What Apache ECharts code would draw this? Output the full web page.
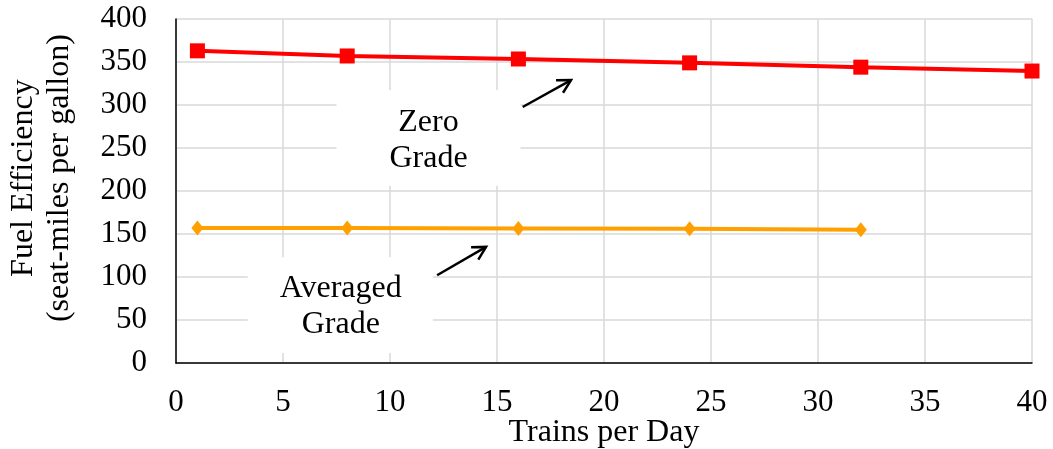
<!DOCTYPE html>
<html><head><meta charset="utf-8">
<script src="https://cdn.jsdelivr.net/npm/echarts@6/dist/echarts.min.js"></script>
<style>html,body{margin:0;padding:0;background:#fff}#c{width:1053px;height:449px}</style>
</head><body><div id="c"></div>
<script>
const trains = [1, 8, 16, 24, 32, 40];
const zeroGrade = [363, 357, 353.5, 349, 344, 339.5];
const avgTrains = [1, 8, 16, 24, 32];
const averagedGrade = [157, 157, 156.5, 156, 155];
const xTicks = [0, 40, 5];
const yTicks = [0, 400, 50];
const yTitle = 'Fuel Efficiency\n(seat-miles per gallon)';
const xTitle = 'Trains per Day';

const FONT = '"Liberation Serif", "DejaVu Serif", serif';
const chart = echarts.init(document.getElementById('c'));
chart.setOption({
  animation: false,
  grid: {left: 176, right: 21, top: 19, bottom: 86, containLabel: false, outerBoundsMode: 'none'},
  xAxis: {
    type: 'value', min: xTicks[0], max: xTicks[1], interval: xTicks[2],
    name: xTitle, nameLocation: 'middle', nameGap: 54, nameMoveOverlap: false,
    nameTextStyle: {fontFamily: FONT, fontSize: 32, color: '#000'},
    axisLine: {show: true, lineStyle: {color: '#000', width: 1.5}},
    axisTick: {show: false},
    axisLabel: {fontFamily: FONT, fontSize: 31, color: '#000', margin: 24},
    splitLine: {show: true, lineStyle: {color: '#d9d9d9', width: 1.5}}
  },
  yAxis: {
    type: 'value', min: yTicks[0], max: yTicks[1], interval: yTicks[2],
    axisLine: {show: true, lineStyle: {color: '#000', width: 1.5}},
    axisTick: {show: false},
    axisLabel: {fontFamily: FONT, fontSize: 31, color: '#000', margin: 29},
    splitLine: {show: true, lineStyle: {color: '#d9d9d9', width: 1.5}}
  },
  series: [
    {type: 'line', data: trains.map((x, i) => [x, zeroGrade[i]]),
     symbol: 'rect', symbolSize: 15, z: 5,
     lineStyle: {color: '#ff0000', width: 4}, itemStyle: {color: '#ff0000'}},
    {type: 'line', data: avgTrains.map((x, i) => [x, averagedGrade[i]]),
     symbol: 'diamond', symbolSize: [12, 15], z: 4,
     lineStyle: {color: '#ffa000', width: 4}, itemStyle: {color: '#ffa000'}}
  ]
});

function P(x, y) { return chart.convertToPixel({gridIndex: 0}, [x, y]); }
function box(x0, y0, x1, y1) {
  const a = P(x0, y0), b = P(x1, y1);
  return {type: 'rect', shape: {x: a[0], y: a[1], width: b[0] - a[0], height: b[1] - a[1]},
          style: {fill: '#fff'}, z: 2};
}
function label(x, y, txt) {
  const p = P(x, y);
  return {type: 'text', x: p[0], y: p[1], z: 3,
          style: {text: txt, fontFamily: FONT, fontSize: 32, fill: '#000',
                  align: 'center', verticalAlign: 'middle', lineHeight: 36}};
}
function arrow(x0, y0, x1, y1) {
  const a = P(x0, y0), b = P(x1, y1);
  const ang = Math.atan2(b[1] - a[1], b[0] - a[0]);
  const L = 15, w = 0.5;
  const h1 = [b[0] - L * Math.cos(ang - w), b[1] - L * Math.sin(ang - w)];
  const h2 = [b[0] - L * Math.cos(ang + w), b[1] - L * Math.sin(ang + w)];
  return [
    {type: 'line', shape: {x1: a[0], y1: a[1], x2: b[0], y2: b[1]}, style: {stroke: '#000', lineWidth: 2.5}, z: 6},
    {type: 'polyline', shape: {points: [h1, b, h2]}, style: {stroke: '#000', lineWidth: 2.5, fill: null}, z: 6}
  ];
}
const mid = P(0, 215);
chart.setOption({
  graphic: [
    box(7.5, 317.4, 16.1, 206),
    label(11.8, 259, 'Zero\nGrade'),
    box(3.35, 123, 12.0, 11.6),
    label(7.7, 66, 'Averaged\nGrade'),
    ...arrow(16.2, 297.7, 18.46, 329),
    ...arrow(12.2, 102, 14.49, 135),
    {type: 'text', x: 42, y: mid[1], rotation: Math.PI / 2, z: 3,
     style: {text: yTitle, fontFamily: FONT, fontSize: 32, fill: '#000',
             align: 'center', verticalAlign: 'middle', lineHeight: 36}}
  ]
});
</script></body></html>
